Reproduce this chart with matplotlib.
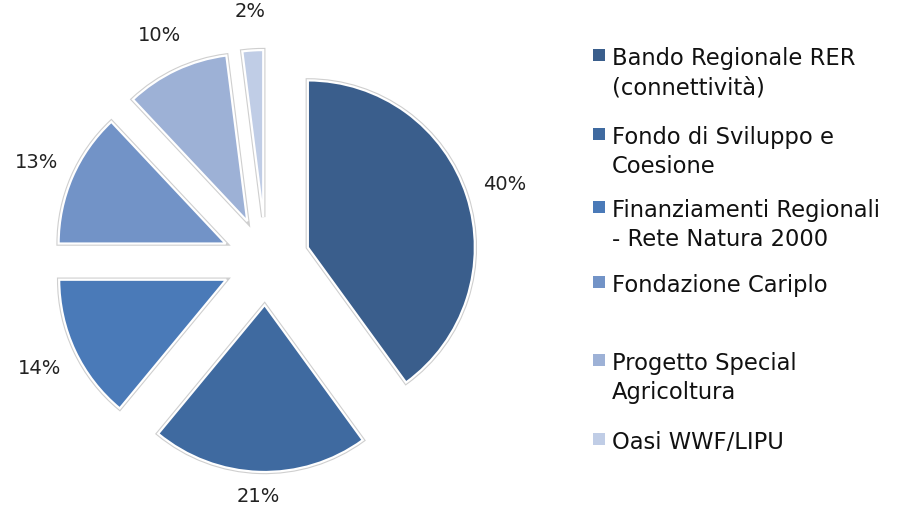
import numpy as np
import matplotlib
matplotlib.use("Agg")
import matplotlib.pyplot as plt
import matplotlib.patheffects as pe
from matplotlib.patches import Rectangle

# data
categories = [
    "Bando Regionale RER\n(connettività)",
    "Fondo di Sviluppo e\nCoesione",
    "Finanziamenti Regionali\n- Rete Natura 2000",
    "Fondazione Cariplo",
    "Progetto Special\nAgricoltura",
    "Oasi WWF/LIPU",
]
shares = [40, 21, 14, 13, 10, 2]
colors = ["#3A5E8C", "#3F6AA0", "#4A7AB8", "#7293C7", "#9DB1D6", "#C0CDE6"]

# layout (pixel units, figure is 900 x 510)
W, H = 900, 510
cx, cy, R = 266, H - 262, 167
gap = 44
legend_tops = [48, 127, 200, 275, 353, 432]

fig = plt.figure(figsize=(W / 100, H / 100), dpi=100)
ax = fig.add_axes([0, 0, 1, 1])

# explode is in data units here (pixels)
wedges, _ = ax.pie(shares, colors=colors, startangle=90, counterclock=False,
                   explode=[gap] * len(shares), center=(cx, cy), radius=R,
                   wedgeprops=dict(edgecolor="white", linewidth=1.6))
for w in wedges:
    w.set_path_effects([pe.Stroke(linewidth=3.2, foreground="#cfcfcf"), pe.Normal()])

# percent labels
for w, s in zip(wedges, shares):
    mid = np.deg2rad((w.theta1 + w.theta2) / 2)
    d = 1.5 * R
    x, y = cx + d * np.cos(mid), cy + d * np.sin(mid)
    y = max(y, 13)  # keep the bottom label inside the canvas
    ax.text(x, y, f"{s}%", ha="center", va="center", fontsize=14, color="#222222")

# legend
for top, lab, col in zip(legend_tops, categories, colors):
    ax.add_patch(Rectangle((593, H - top - 14), 12, 12, facecolor=col, edgecolor="none"))
    ax.text(612, H - top + 1, lab, ha="left", va="top", fontsize=16.3,
            color="#111111", linespacing=1.35)

ax.set_xlim(0, W)
ax.set_ylim(0, H)
ax.set_aspect("equal")
ax.axis("off")

fig.savefig("out.png", dpi=100)
